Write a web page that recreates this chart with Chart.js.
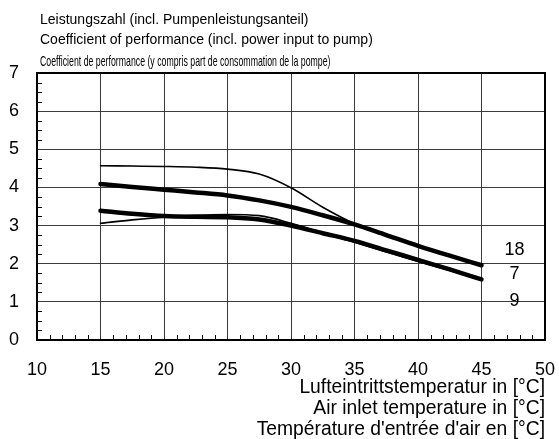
<!DOCTYPE html>
<html>
<head>
<meta charset="utf-8">
<script src="https://cdn.jsdelivr.net/npm/chart.js@4/dist/chart.umd.min.js"></script>
<style>
    html, body { margin: 0; padding: 0; background: #fff; }
    #wrap { position: relative; width: 559px; height: 439px; }
    .head { position: absolute; left: 40px; white-space: nowrap; color: #000; font-family: "Liberation Sans", Arial, sans-serif; font-size: 14px; line-height: 16px; }
    .narrow { font-size: 15px; transform-origin: 0 50%; }
</style>
</head>
<body>
<div id="wrap">
    <canvas id="CopChart" width="559" height="439"></canvas>
    <div class="head" style="top: 11px;">Leistungszahl (incl. Pumpenleistungsanteil)</div>
    <div class="head" style="top: 31px;">Coefficient of performance (incl. power input to pump)</div>
    <div class="head narrow" id="narrowHead" style="top: 53px;">Coefficient de performance (y compris part de consommation de la pompe)</div>
</div>
<script>
// air inlet temperature [°C]
const temps = [15, 17.5, 20, 22.5, 25, 27.5, 30, 32.5, 35, 37.5, 40, 42.5, 45];

// COP curves
const copThinTop = [4.57, 4.56, 4.55, 4.53, 4.48, 4.35, 3.99, 3.48, 3.05, 2.77, 2.48, 2.22, 1.98];
const copThickUpper = [4.09, 4.01, 3.94, 3.87, 3.79, 3.66, 3.49, 3.27, 3.03, 2.75, 2.47, 2.21, 1.96];
const copThickLower = [3.39, 3.31, 3.25, 3.23, 3.22, 3.16, 3.00, 2.80, 2.60, 2.35, 2.10, 1.85, 1.59];
const copThinLower = [3.06, 3.15, 3.22, 3.27, 3.29, 3.26, 3.06, 2.80, 2.56, 2.31, 2.06, 1.82, 1.57];

// curve labels at the right end
const curveLabels = ["18", "7", "9"];
const curveLabelX = [47.6, 47.6, 47.6];
const curveLabelY = [2.35, 1.72, 1.02];

const xTitle = [
    "Lufteintrittstemperatur in [°C]",
    "Air inlet temperature in [°C]",
    "Température d'entrée d'air en [°C]"
];

const FONT = "'Liberation Sans', Arial, sans-serif";

// squeeze the third heading line like the condensed original
const narrow = document.getElementById("narrowHead");
narrow.style.transform = "scaleX(" + (290 / narrow.offsetWidth).toFixed(3) + ")";

const toPoints = (ys) => temps.map((t, i) => ({ x: t, y: ys[i] }));

const curve = (ys, width) => ({
    data: toPoints(ys),
    borderColor: "#000",
    backgroundColor: "#000",
    borderWidth: width,
    borderCapStyle: "round",
    borderJoinStyle: "round",
    pointRadius: 0,
    cubicInterpolationMode: "monotone",
    fill: false
});

// minor ticks drawn inside the frame + end labels
const extrasPlugin = {
    id: "extras",
    afterDatasetsDraw(chart) {
        const { ctx, chartArea, scales } = chart;
        const xs = scales.x;
        const ys = scales.y;
        ctx.save();
        ctx.strokeStyle = "#000";
        ctx.lineWidth = 1;
        ctx.beginPath();
        for (let v = 11; v < 50; v++) {
            if (v % 5 === 0) continue;
            const px = Math.round(xs.getPixelForValue(v)) + 0.5;
            ctx.moveTo(px, chartArea.bottom);
            ctx.lineTo(px, chartArea.bottom - 5);
        }
        for (let v = 0.25; v < 7; v += 0.25) {
            if (Math.abs(v - Math.round(v)) < 0.01) continue;
            const py = Math.round(ys.getPixelForValue(v)) + 0.5;
            ctx.moveTo(chartArea.left, py);
            ctx.lineTo(chartArea.left + 5, py);
        }
        ctx.stroke();

        ctx.fillStyle = "#000";
        ctx.font = "18px " + FONT;
        ctx.textAlign = "center";
        ctx.textBaseline = "middle";
        curveLabels.forEach((txt, i) => {
            ctx.fillText(txt, xs.getPixelForValue(curveLabelX[i]), ys.getPixelForValue(curveLabelY[i]));
        });

        ctx.lineWidth = 2;
        ctx.strokeRect(chartArea.left, chartArea.top, chartArea.right - chartArea.left, chartArea.bottom - chartArea.top);
        ctx.restore();
    }
};

const ctx = document.getElementById("CopChart").getContext("2d");

const copChart = new Chart(ctx, {
    type: "line",
    data: {
        datasets: [
            curve(copThinTop, 1.6),
            curve(copThickUpper, 4.5),
            curve(copThinLower, 1.6),
            curve(copThickLower, 4.5)
        ]
    },
    options: {
        responsive: false,
        animation: false,
        layout: { padding: { top: 73, right: 14, left: 0, bottom: 0 } },
        plugins: {
            legend: { display: false },
            tooltip: { enabled: false }
        },
        scales: {
            x: {
                type: "linear",
                min: 10,
                max: 50,
                afterFit: (scale) => {
                    scale.height = 99;
                    scale.paddingLeft = 0;
                    scale.paddingRight = 0;
                },
                ticks: {
                    stepSize: 5,
                    color: "#000",
                    padding: 19,
                    maxRotation: 0,
                    font: { family: FONT, size: 18 }
                },
                grid: { color: "#3a3a3a", lineWidth: 1, drawTicks: false },
                border: { display: false },
                title: {
                    display: true,
                    text: xTitle,
                    align: "end",
                    color: "#000",
                    padding: { top: 0, bottom: -1.5 },
                    font: { family: FONT, size: 19.3, lineHeight: 1.088 }
                }
            },
            y: {
                min: 0,
                max: 7,
                afterFit: (scale) => {
                    scale.width = 37;
                    scale.paddingTop = 0;
                    scale.paddingBottom = 0;
                },
                ticks: {
                    stepSize: 1,
                    color: "#000",
                    padding: 18,
                    font: { family: FONT, size: 18 }
                },
                grid: { color: "#3a3a3a", lineWidth: 1, drawTicks: false },
                border: { display: false }
            }
        }
    },
    plugins: [extrasPlugin]
});
</script>
</body>
</html>
